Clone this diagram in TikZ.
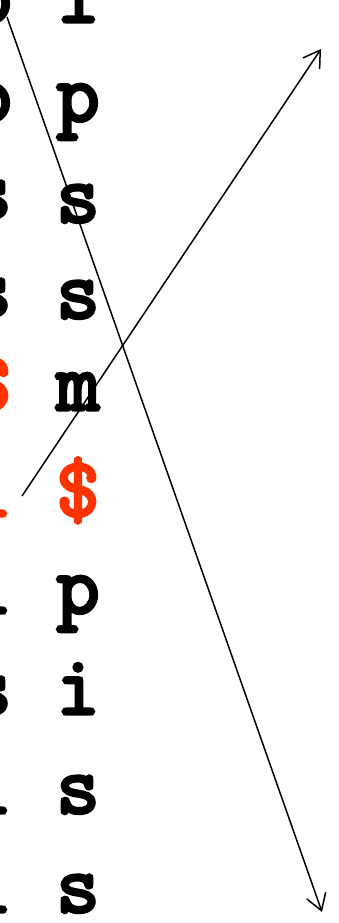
\documentclass[tikz,border=0pt]{standalone}
\usepackage{fontspec}
\usepackage{xcolor}
\usetikzlibrary{positioning, arrows.meta}
\newfontfamily\bwtfont[FakeBold=4]{Latin Modern Mono}
\definecolor{bwtred}{HTML}{FF3300}
\tikzset{
    letter/.style={anchor=base, inner sep=0pt, font=\fontsize{84}{84}\selectfont\bwtfont\bfseries},
    redletter/.style={letter, text=bwtred},
    jump/.style={-{Straight Barb[length=16pt, width=20pt]}, line width=1.5pt}
}

\begin{document}
\begin{tikzpicture}[x=1pt, y=-1pt]

\useasboundingbox (0,0) rectangle (338,923);

% Second-to-last column (cut at the left edge)
\node[letter] (l1) at (-10,22) {p};
\node[letter] (l2) at (-10,121) {p};
\node[letter] (l3) at (-10,218) {s};
\node[letter] (l4) at (-10,316) {s};
\node[redletter] (l5) at (-10,410) {\$};
\node[redletter] (l6) at (-10,516) {i};
\node[letter] (l7) at (-10,613) {i};
\node[letter] (l8) at (-10,714) {s};
\node[letter] (l9) at (-10,813) {i};
\node[letter] (l10) at (-10,912) {i};

% Last column
\node[letter] (r1) at (78,22) {i};
\node[letter] (r2) at (78,121) {p};
\node[letter] (r3) at (78,222) {s};
\node[letter] (r4) at (78,318) {s};
\node[letter] (r5) at (78,410) {m};
\node[redletter] (r6) at (78,516) {\$};
\node[letter] (r7) at (78,613) {p};
\node[letter] (r8) at (78,714) {i};
\node[letter] (r9) at (78,813) {s};
\node[letter] (r10) at (78,912) {s};

% Arrow ends
\coordinate (downfrom) at (7,17);
\coordinate (downto) at (322,912);
\coordinate (upfrom) at (22,496);
\coordinate (upto) at (321,49);

% Arrows
\draw[jump] (downfrom) -- (downto);
\draw[jump] (upfrom) -- (upto);

\end{tikzpicture}
\end{document}
